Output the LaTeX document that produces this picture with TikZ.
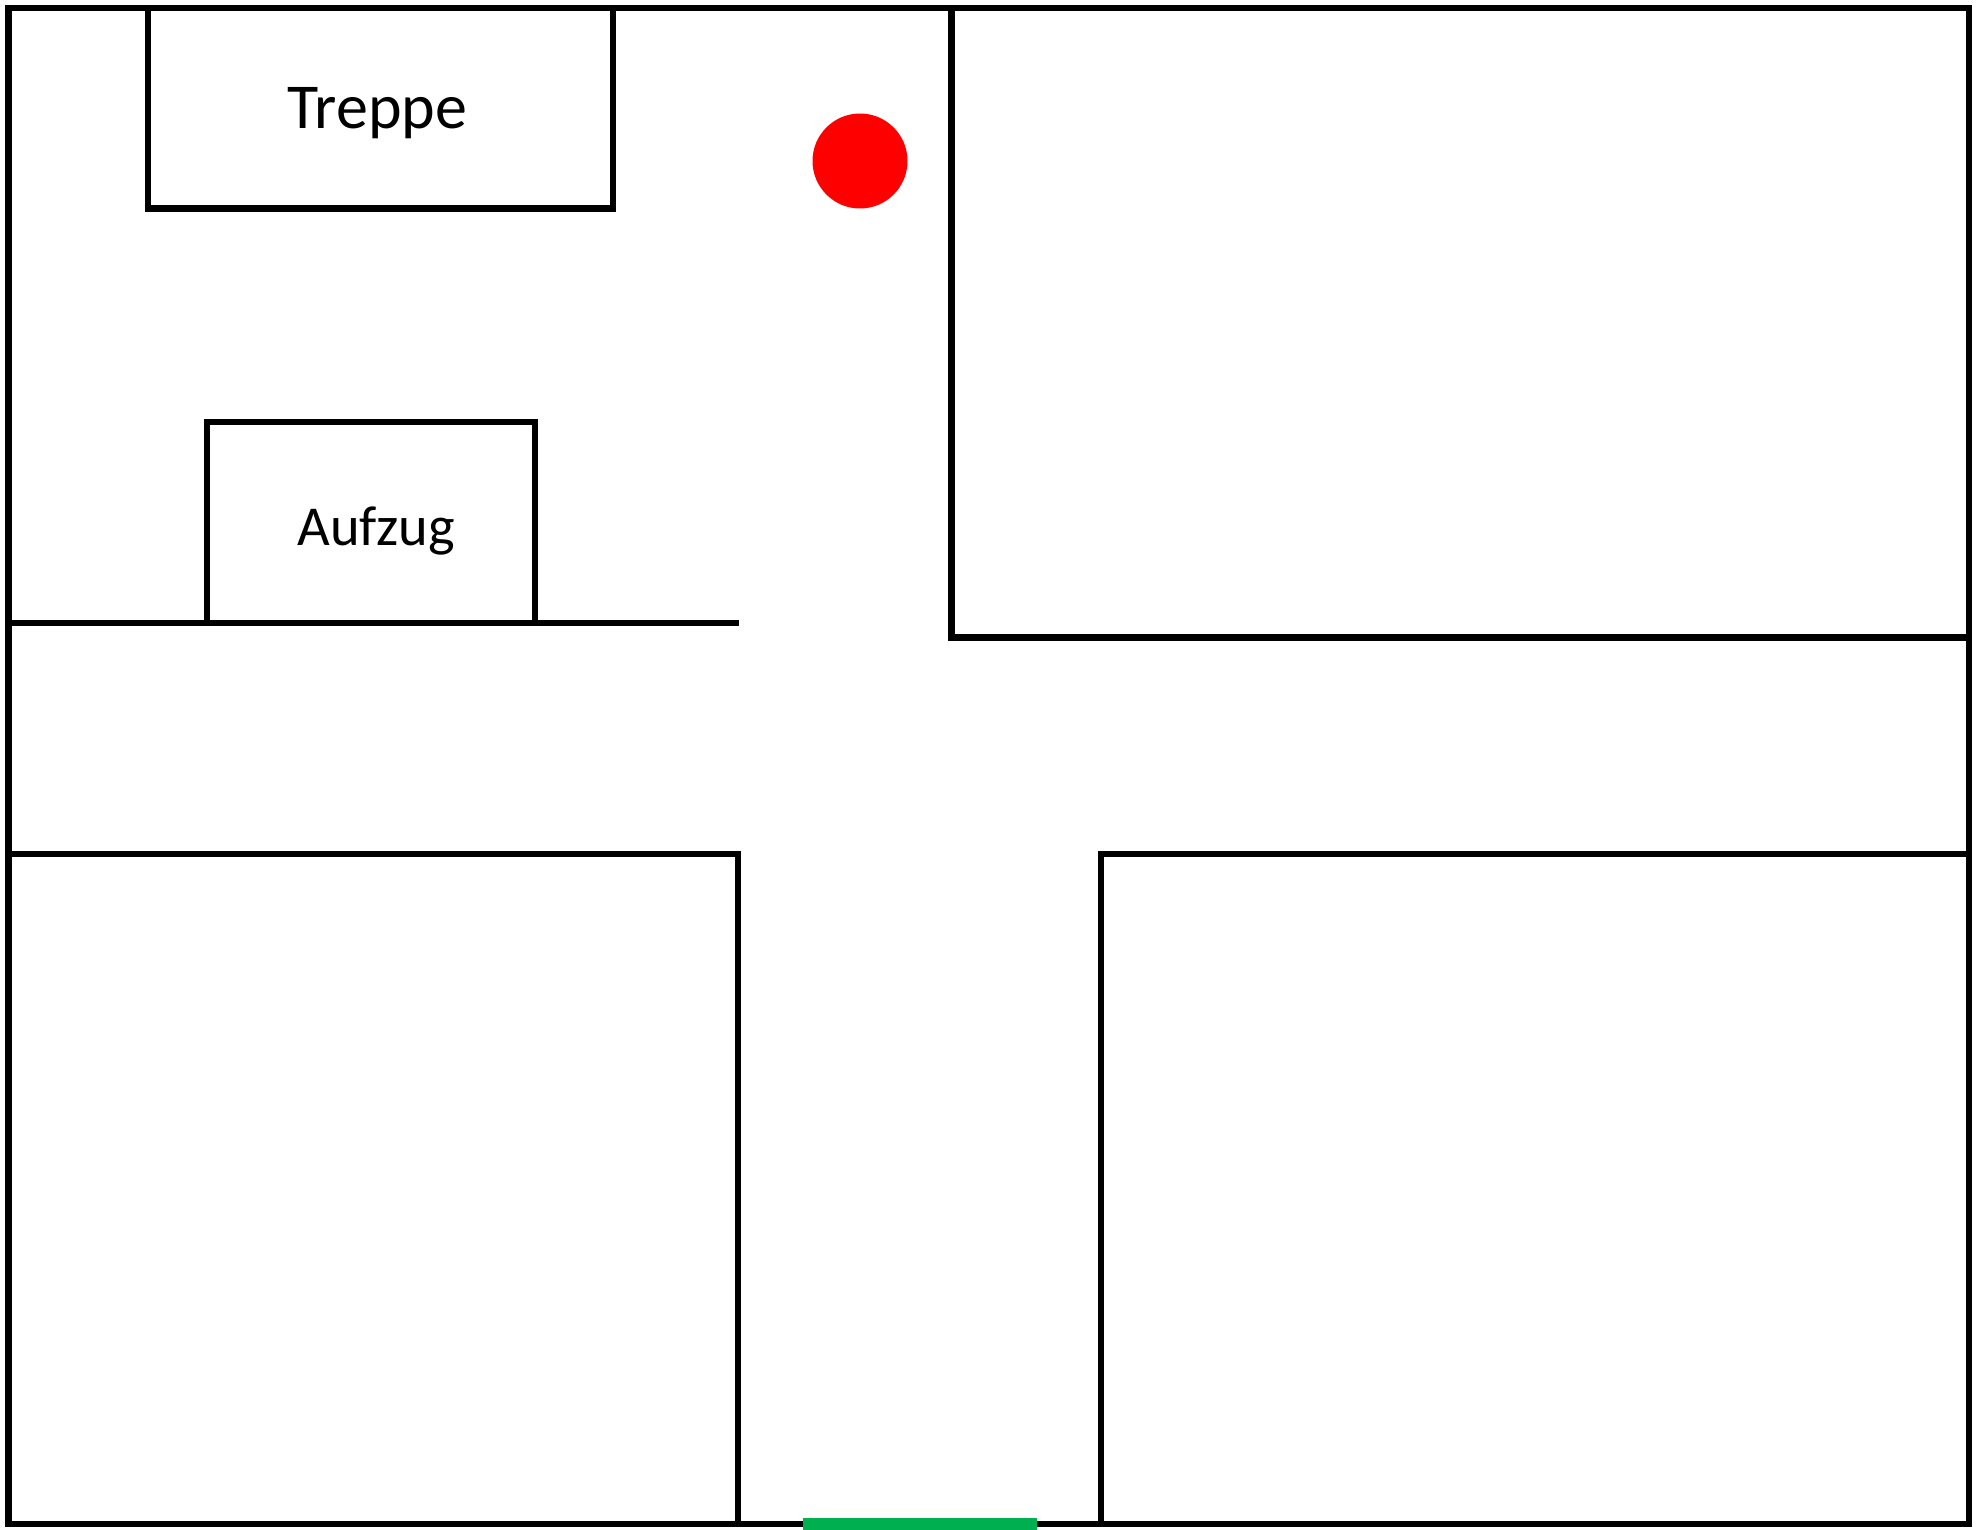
\documentclass[tikz,border=0pt]{standalone}
\usepackage{fontspec}
\setmainfont{Carlito}

\begin{document}
\begin{tikzpicture}[x=0.5pt, y=-0.5pt, every node/.style = 
     {outer sep = 0pt, inner sep = 0pt, 
     draw=black, line width=3.2pt},
     room/.style = {anchor=north west},
     label/.style = {draw=none, anchor=base}]
        \useasboundingbox (0,0) rectangle (1976,1530);
        \node [room, minimum width=980.35pt, minimum height=758pt] 
            at (8.3,8)    (outer) {};
        \node [room, minimum width=232.5pt, minimum height=100.25pt] 
            at (148,8)    (treppe) {};
        \node [room, minimum width=164pt, minimum height=100.5pt] 
            at (207,422)  (aufzug) {};
        \node [room, minimum width=508.75pt, minimum height=314.75pt] 
            at (951.5,8)  (upper) {};
        \node [room, minimum width=364.85pt, minimum height=335pt] 
            at (8.3,854)  (lowerleft) {};
        \node [room, minimum width=434pt, minimum height=335pt] 
            at (1101,854) (lowerright) {};
        \node [label, font=\fontsize{32pt}{32pt}\selectfont] 
            at (377.5,129)  (treppetext) {Treppe};
        \node [label, font=\fontsize{28.2pt}{28.2pt}\selectfont] 
            at (376,545) (aufzugtext) {Aufzug};
        \node [draw=none, fill=red, circle, minimum size=47.5pt] 
            at (860,161)  (marker) {};
        % wall next to the lift
        \coordinate (wallstart) at (8.3,623);
        \coordinate (wallend) at (738.5,623);
        \draw [line width=3.2pt] (wallstart) -- (wallend);
        % exit
        \coordinate (doorstart) at (803,1524);
        \coordinate (doorend) at (1036.7,1524);
        \draw [line width=6pt, color={rgb,255:red,0;green,176;blue,80}] 
            (doorstart) -- (doorend);
\end{tikzpicture}
\end{document}
